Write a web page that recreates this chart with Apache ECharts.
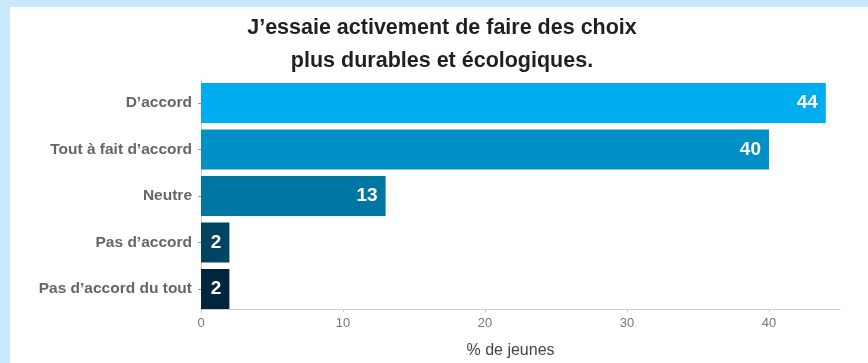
<!DOCTYPE html>
<html>
<head>
<meta charset="utf-8">
<script src="https://cdn.jsdelivr.net/npm/echarts@6/dist/echarts.min.js"></script>
<style>
  html, body { margin: 0; padding: 0; background: #c8e9f9; }
  body { width: 868px; height: 363px; position: relative; overflow: hidden; }
  #chart { position: absolute; left: 10px; top: 7px; width: 858px; height: 356px; background: #ffffff; }
</style>
</head>
<body>
<div id="chart"></div>
<script>
// Survey answers, top to bottom
const categories = ['D\u2019accord', 'Tout \u00e0 fait d\u2019accord', 'Neutre', 'Pas d\u2019accord', 'Pas d\u2019accord du tout'];
const values = [44, 40, 13, 2, 2];
const barColors = ['#00aeef', '#0090c8', '#0076a2', '#004464', '#00263f'];
const xTicks = [0, 10, 20, 30, 40];

const chart = echarts.init(document.getElementById('chart'), null, { renderer: 'canvas' });
const font = '"Liberation Sans", Arial, sans-serif';

chart.setOption({
  animation: false,
  textStyle: { fontFamily: font },
  title: {
    text: 'J\u2019essaie activement de faire des choix\nplus durables et \u00e9cologiques.',
    left: 427,
    top: 0,
    textAlign: 'center',
    textStyle: { fontFamily: font, fontSize: 21.5, fontWeight: 'bold', color: '#231f20', lineHeight: 33 }
  },
  grid: { left: 191, right: 28, top: 72.75, bottom: 50.75, containLabel: false, outerBoundsMode: 'none' },
  xAxis: {
    type: 'value',
    min: 0,
    max: 45,
    interval: 10,
    offset: -3,
    name: '% de jeunes',
    nameLocation: 'middle',
    nameGap: 33,
    nameTextStyle: { fontFamily: font, fontSize: 16, color: '#444444', padding: [0, 20, 0, 0] },
    axisLine: { show: true, lineStyle: { color: '#cccccc', width: 1 } },
    axisTick: { show: true, length: 3, lineStyle: { color: '#cccccc' } },
    axisLabel: {
      color: '#777777', fontSize: 13, fontFamily: font, margin: 8,
      showMaxLabel: false,
      formatter: v => (xTicks.indexOf(v) >= 0 ? String(v) : '')
    },
    splitLine: { show: false }
  },
  yAxis: {
    type: 'category',
    inverse: true,
    data: categories,
    axisLine: { show: true, lineStyle: { color: '#cccccc' } },
    axisTick: { show: true, length: 3, alignWithLabel: true, lineStyle: { color: '#999999' } },
    axisLabel: { color: '#666666', fontSize: 15.5, fontWeight: 'bold', fontFamily: font, margin: 9 }
  },
  series: [{
    type: 'bar',
    data: values.map((v, i) => ({ value: v, itemStyle: { color: barColors[i] } })),
    barWidth: 40,
    label: {
      show: true,
      position: 'insideRight',
      distance: 8,
      color: '#ffffff',
      fontSize: 19,
      fontWeight: 'bold',
      fontFamily: font
    }
  }]
});
</script>
</body>
</html>
